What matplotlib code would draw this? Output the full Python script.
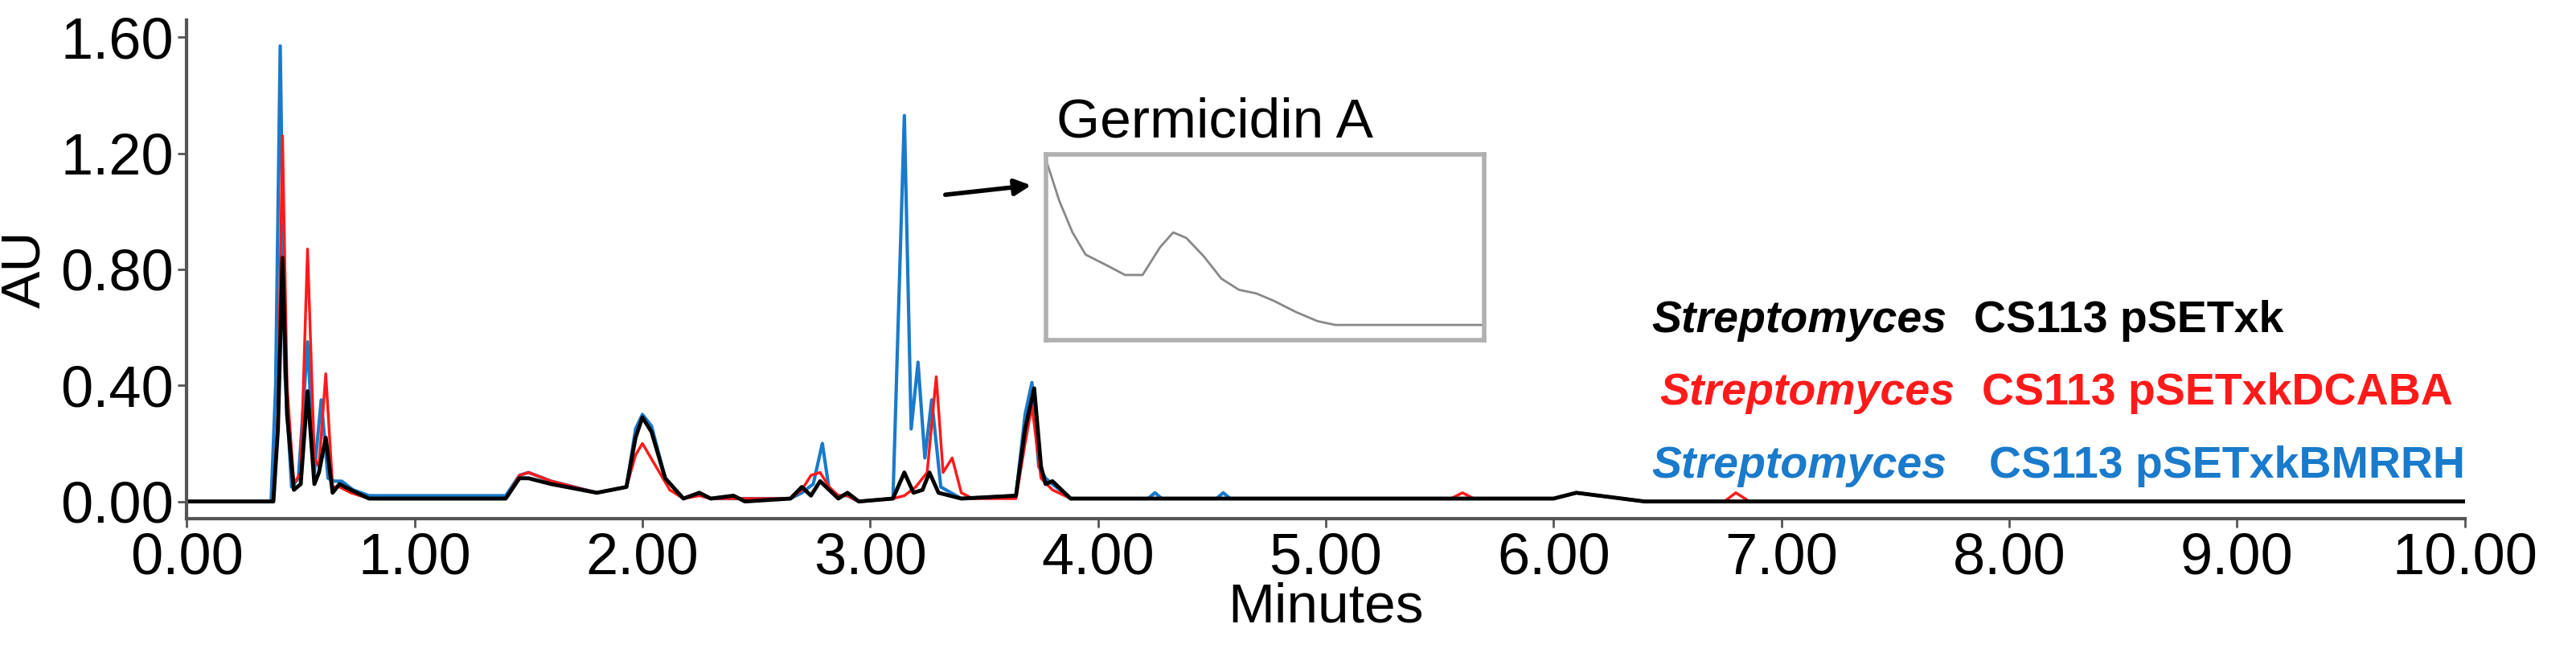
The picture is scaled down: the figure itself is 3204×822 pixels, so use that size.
import numpy as np
import matplotlib.pyplot as plt

plt.rcParams['font.family'] = ['Liberation Sans', 'DejaVu Sans']

# chromatogram traces (minutes, AU)
t_black = [0, 0.38, 0.40, 0.42, 0.44, 0.47, 0.50, 0.53, 0.56, 0.58, 0.61, 0.64, 0.67, 0.72, 0.80, 1.40, 1.46, 1.50, 1.60, 1.80, 1.93, 1.97, 2.00, 2.04, 2.10, 2.18, 2.25, 2.30, 2.40, 2.45, 2.65, 2.70, 2.74, 2.78, 2.82, 2.86, 2.90, 2.95, 3.10, 3.15, 3.19, 3.23, 3.26, 3.30, 3.40, 3.64, 3.68, 3.72, 3.75, 3.77, 3.80, 3.88, 6.00, 6.10, 6.20, 6.40, 10.0]
y_black = [0.0, 0.0, 0.25, 0.84, 0.30, 0.04, 0.06, 0.38, 0.06, 0.10, 0.22, 0.03, 0.06, 0.04, 0.01, 0.01, 0.08, 0.08, 0.06, 0.03, 0.05, 0.22, 0.29, 0.24, 0.08, 0.01, 0.03, 0.01, 0.02, 0.00, 0.01, 0.05, 0.02, 0.07, 0.04, 0.01, 0.03, 0.00, 0.01, 0.10, 0.03, 0.04, 0.10, 0.03, 0.01, 0.02, 0.25, 0.39, 0.12, 0.06, 0.07, 0.01, 0.01, 0.03, 0.02, 0.0, 0.0]

t_red = [0, 0.38, 0.40, 0.42, 0.44, 0.47, 0.50, 0.53, 0.56, 0.58, 0.61, 0.64, 0.67, 0.72, 0.80, 1.40, 1.46, 1.50, 1.60, 1.80, 1.93, 1.97, 2.00, 2.06, 2.12, 2.18, 2.25, 2.30, 2.65, 2.70, 2.74, 2.78, 2.82, 2.86, 2.90, 2.95, 3.10, 3.15, 3.20, 3.25, 3.29, 3.32, 3.36, 3.40, 3.45, 3.64, 3.68, 3.71, 3.75, 3.80, 3.88, 5.55, 5.60, 5.65, 6.00, 6.10, 6.20, 6.40, 6.75, 6.80, 6.86, 10.0]
y_red = [0.0, 0.0, 0.30, 1.26, 0.40, 0.06, 0.10, 0.87, 0.15, 0.12, 0.44, 0.05, 0.05, 0.03, 0.01, 0.01, 0.09, 0.10, 0.07, 0.03, 0.05, 0.16, 0.20, 0.12, 0.04, 0.01, 0.02, 0.01, 0.01, 0.04, 0.09, 0.10, 0.05, 0.02, 0.02, 0.00, 0.01, 0.02, 0.05, 0.10, 0.43, 0.10, 0.15, 0.03, 0.01, 0.01, 0.20, 0.33, 0.08, 0.04, 0.01, 0.01, 0.03, 0.01, 0.01, 0.03, 0.02, 0.0, 0.0, 0.03, 0.0, 0.0]

t_blue = [0, 0.37, 0.39, 0.41, 0.43, 0.46, 0.49, 0.53, 0.56, 0.59, 0.62, 0.65, 0.68, 0.73, 0.80, 1.40, 1.46, 1.50, 1.60, 1.80, 1.93, 1.97, 2.00, 2.04, 2.10, 2.18, 2.25, 2.30, 2.65, 2.70, 2.75, 2.79, 2.82, 2.86, 2.90, 2.95, 3.10, 3.15, 3.18, 3.21, 3.24, 3.27, 3.31, 3.40, 3.64, 3.68, 3.71, 3.74, 3.77, 3.80, 3.88, 4.22, 4.25, 4.28, 4.52, 4.55, 4.58, 6.00, 6.10, 6.20, 6.40, 10.0]
y_blue = [0.0, 0.0, 0.40, 1.57, 0.45, 0.05, 0.08, 0.55, 0.10, 0.35, 0.08, 0.07, 0.07, 0.04, 0.02, 0.02, 0.09, 0.10, 0.07, 0.03, 0.05, 0.25, 0.30, 0.26, 0.08, 0.01, 0.03, 0.01, 0.01, 0.03, 0.06, 0.20, 0.04, 0.02, 0.02, 0.00, 0.01, 1.33, 0.25, 0.48, 0.15, 0.35, 0.05, 0.01, 0.02, 0.30, 0.41, 0.12, 0.08, 0.06, 0.01, 0.01, 0.03, 0.01, 0.01, 0.03, 0.01, 0.01, 0.03, 0.02, 0.0, 0.0]

# UV spectrum of germicidin A shown in the inset (relative units)
uv_x = [0, 0.03, 0.06, 0.09, 0.14, 0.18, 0.22, 0.26, 0.29, 0.32, 0.36, 0.40, 0.44, 0.48, 0.52, 0.57, 0.62, 0.66, 0.75, 1.0]
uv_y = [0.97, 0.75, 0.58, 0.46, 0.40, 0.35, 0.35, 0.50, 0.58, 0.55, 0.45, 0.33, 0.27, 0.25, 0.21, 0.15, 0.10, 0.08, 0.08, 0.08]

xticks = np.arange(0, 10.01, 1.0)
yticks = [0.0, 0.4, 0.8, 1.2, 1.6]

blue = '#1a7acb'
red = '#ff1a1a'

fig = plt.figure(figsize=(32.05, 8.22), dpi=100)
ax = fig.add_axes([0.0725, 0.215, 0.884, 0.755])

ax.plot(t_blue, y_blue, color=blue, lw=3)
ax.plot(t_red, y_red, color=red, lw=2.5)
ax.plot(t_black, y_black, color='black', lw=3.5)

ax.set_xlim(0, 10)
ax.set_ylim(-0.06, 1.66)
ax.set_xticks(xticks)
ax.set_xticklabels([f'{v:.2f}' for v in xticks])
ax.set_yticks(yticks)
ax.set_yticklabels([f'{v:.2f}' for v in yticks])
ax.tick_params(labelsize=52, length=8, width=2, color='#555555', pad=4)
for s in ['top', 'right']:
    ax.spines[s].set_visible(False)
for s in ['left', 'bottom']:
    ax.spines[s].set_color('#555555')
    ax.spines[s].set_linewidth(3)
ax.set_xlabel('Minutes', fontsize=50, labelpad=-4)
ax.set_ylabel('AU', fontsize=50, labelpad=8)

# legend as coloured text rows
rows = [('black', 'CS113 pSETxk', 0.515), (red, 'CS113 pSETxkDCABA', 0.405), (blue, 'CS113 pSETxkBMRRH', 0.295)]
for i, (c, txt, yy) in enumerate(rows):
    fig.text(0.641 + 0.003 * (i % 2), yy, 'Streptomyces', color=c, fontsize=40,
             fontweight='bold', style='italic', va='center')
    fig.text(0.766 + 0.003 * i, yy, txt, color=c, fontsize=40,
             fontweight='bold', va='center')

# inset with UV spectrum
ins = fig.add_axes([0.406, 0.486, 0.17, 0.28])
ins.plot(uv_x, uv_y, color='#888888', lw=2)
ins.set_xlim(0, 1)
ins.set_ylim(0, 1)
ins.set_xticks([])
ins.set_yticks([])
for s in ins.spines.values():
    s.set_color('#b0b0b0')
    s.set_linewidth(4)
fig.text(0.41, 0.815, 'Germicidin A', fontsize=50, va='center')
ax.annotate('', xy=(0.401, 0.72), xytext=(0.366, 0.705), xycoords='figure fraction',
            arrowprops=dict(arrowstyle='-|>', color='black', lw=4, mutation_scale=30))

fig.savefig('out.png', dpi=100)
